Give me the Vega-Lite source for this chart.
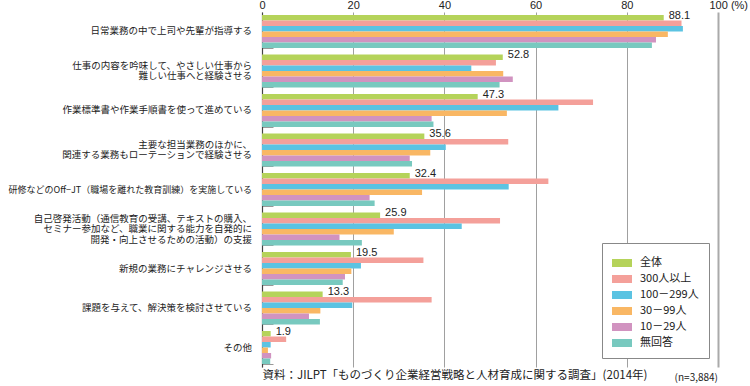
{
  "$schema": "https://vega.github.io/schema/vega-lite/v6.json",
  "autosize": {"type": "none"},
  "width": 456,
  "height": 355,
  "padding": {"left": 262, "top": 12, "right": 32, "bottom": 19},
  "background": "white",
  "config": {
    "font": "Noto Sans CJK JP",
    "view": {"stroke": null}
  },
  "title": {
    "text": "(n=3,884)",
    "orient": "bottom",
    "anchor": "end",
    "frame": "group",
    "offset": -8,
    "font": "Noto Sans CJK JP",
    "fontSize": 10,
    "fontWeight": "normal",
    "color": "#222"
  },
  "data": {
    "values": [
      {"cat": "日常業務の中で上司や先輩が指導する", "series": "全体", "value": 88.1},
      {"cat": "日常業務の中で上司や先輩が指導する", "series": "300人以上", "value": 92.0},
      {"cat": "日常業務の中で上司や先輩が指導する", "series": "100－299人", "value": 92.3},
      {"cat": "日常業務の中で上司や先輩が指導する", "series": "30－99人", "value": 89.0},
      {"cat": "日常業務の中で上司や先輩が指導する", "series": "10－29人", "value": 86.4},
      {"cat": "日常業務の中で上司や先輩が指導する", "series": "無回答", "value": 85.5},
      {"cat": "仕事の内容を吟味して、やさしい仕事から|難しい仕事へと経験させる", "series": "全体", "value": 52.8},
      {"cat": "仕事の内容を吟味して、やさしい仕事から|難しい仕事へと経験させる", "series": "300人以上", "value": 51.3},
      {"cat": "仕事の内容を吟味して、やさしい仕事から|難しい仕事へと経験させる", "series": "100－299人", "value": 45.9},
      {"cat": "仕事の内容を吟味して、やさしい仕事から|難しい仕事へと経験させる", "series": "30－99人", "value": 52.9},
      {"cat": "仕事の内容を吟味して、やさしい仕事から|難しい仕事へと経験させる", "series": "10－29人", "value": 55.0},
      {"cat": "仕事の内容を吟味して、やさしい仕事から|難しい仕事へと経験させる", "series": "無回答", "value": 52.1},
      {"cat": "作業標準書や作業手順書を使って進めている", "series": "全体", "value": 47.3},
      {"cat": "作業標準書や作業手順書を使って進めている", "series": "300人以上", "value": 72.6},
      {"cat": "作業標準書や作業手順書を使って進めている", "series": "100－299人", "value": 65.0},
      {"cat": "作業標準書や作業手順書を使って進めている", "series": "30－99人", "value": 53.7},
      {"cat": "作業標準書や作業手順書を使って進めている", "series": "10－29人", "value": 37.2},
      {"cat": "作業標準書や作業手順書を使って進めている", "series": "無回答", "value": 37.6},
      {"cat": "主要な担当業務のほかに、|関連する業務もローテーションで経験させる", "series": "全体", "value": 35.6},
      {"cat": "主要な担当業務のほかに、|関連する業務もローテーションで経験させる", "series": "300人以上", "value": 54.0},
      {"cat": "主要な担当業務のほかに、|関連する業務もローテーションで経験させる", "series": "100－299人", "value": 40.3},
      {"cat": "主要な担当業務のほかに、|関連する業務もローテーションで経験させる", "series": "30－99人", "value": 36.9},
      {"cat": "主要な担当業務のほかに、|関連する業務もローテーションで経験させる", "series": "10－29人", "value": 32.4},
      {"cat": "主要な担当業務のほかに、|関連する業務もローテーションで経験させる", "series": "無回答", "value": 32.9},
      {"cat": "研修などのOff−JT（職場を離れた教育訓練）を実施している", "series": "全体", "value": 32.4},
      {"cat": "研修などのOff−JT（職場を離れた教育訓練）を実施している", "series": "300人以上", "value": 62.8},
      {"cat": "研修などのOff−JT（職場を離れた教育訓練）を実施している", "series": "100－299人", "value": 54.1},
      {"cat": "研修などのOff−JT（職場を離れた教育訓練）を実施している", "series": "30－99人", "value": 35.1},
      {"cat": "研修などのOff−JT（職場を離れた教育訓練）を実施している", "series": "10－29人", "value": 23.6},
      {"cat": "研修などのOff−JT（職場を離れた教育訓練）を実施している", "series": "無回答", "value": 24.7},
      {"cat": "自己啓発活動（通信教育の受講、テキストの購入、|セミナー参加など、職業に関する能力を自発的に|開発・向上させるための活動）の支援", "series": "全体", "value": 25.9},
      {"cat": "自己啓発活動（通信教育の受講、テキストの購入、|セミナー参加など、職業に関する能力を自発的に|開発・向上させるための活動）の支援", "series": "300人以上", "value": 52.2},
      {"cat": "自己啓発活動（通信教育の受講、テキストの購入、|セミナー参加など、職業に関する能力を自発的に|開発・向上させるための活動）の支援", "series": "100－299人", "value": 43.8},
      {"cat": "自己啓発活動（通信教育の受講、テキストの購入、|セミナー参加など、職業に関する能力を自発的に|開発・向上させるための活動）の支援", "series": "30－99人", "value": 28.9},
      {"cat": "自己啓発活動（通信教育の受講、テキストの購入、|セミナー参加など、職業に関する能力を自発的に|開発・向上させるための活動）の支援", "series": "10－29人", "value": 17.0},
      {"cat": "自己啓発活動（通信教育の受講、テキストの購入、|セミナー参加など、職業に関する能力を自発的に|開発・向上させるための活動）の支援", "series": "無回答", "value": 21.9},
      {"cat": "新規の業務にチャレンジさせる", "series": "全体", "value": 19.5},
      {"cat": "新規の業務にチャレンジさせる", "series": "300人以上", "value": 35.4},
      {"cat": "新規の業務にチャレンジさせる", "series": "100－299人", "value": 21.7},
      {"cat": "新規の業務にチャレンジさせる", "series": "30－99人", "value": 19.6},
      {"cat": "新規の業務にチャレンジさせる", "series": "10－29人", "value": 18.2},
      {"cat": "新規の業務にチャレンジさせる", "series": "無回答", "value": 17.7},
      {"cat": "課題を与えて、解決策を検討させている", "series": "全体", "value": 13.3},
      {"cat": "課題を与えて、解決策を検討させている", "series": "300人以上", "value": 37.2},
      {"cat": "課題を与えて、解決策を検討させている", "series": "100－299人", "value": 19.8},
      {"cat": "課題を与えて、解決策を検討させている", "series": "30－99人", "value": 12.8},
      {"cat": "課題を与えて、解決策を検討させている", "series": "10－29人", "value": 10.3},
      {"cat": "課題を与えて、解決策を検討させている", "series": "無回答", "value": 12.7},
      {"cat": "その他", "series": "全体", "value": 1.9},
      {"cat": "その他", "series": "300人以上", "value": 5.3},
      {"cat": "その他", "series": "100－299人", "value": 1.9},
      {"cat": "その他", "series": "30－99人", "value": 1.3},
      {"cat": "その他", "series": "10－29人", "value": 2.0},
      {"cat": "その他", "series": "無回答", "value": 1.8}
    ]
  },
  "resolve": {"axis": {"x": "independent"}},
  "layer": [
    {
      "mark": {"type": "bar"},
      "encoding": {
        "y": {
          "field": "cat",
          "type": "nominal",
          "sort": null,
          "scale": {"paddingInner": 0.165, "paddingOuter": 0.076},
          "axis": {
            "title": null,
            "labels": false,
            "tickBand": "extent",
            "tickSize": -11,
            "tickColor": "#999",
            "tickWidth": 1,
            "domainColor": "#444",
            "domainWidth": 1.2,
            "grid": false
          }
        },
        "yOffset": {
          "field": "series",
          "type": "nominal",
          "sort": ["全体", "300人以上", "100－299人", "30－99人", "10－29人", "無回答"],
          "scale": {"paddingInner": 0, "paddingOuter": 0}
        },
        "x": {
          "field": "value",
          "type": "quantitative",
          "scale": {"domain": [0, 100], "nice": false, "zero": true},
          "axis": {
            "orient": "top",
            "title": null,
            "values": [0, 20, 40, 60, 80, 100],
            "labelExpr": "datum.value == 100 ? '100 (%)' : datum.label",
            "labelAlign": {"condition": {"test": "datum.value == 100", "value": "left"}, "value": "center"},
            "labelOffset": {"condition": {"test": "datum.value == 100", "value": -9}, "value": 0},
            "labelFont": "Liberation Sans",
            "labelFontSize": 11,
            "labelColor": "#222",
            "labelPadding": 2,
            "ticks": false,
            "domain": false,
            "grid": true,
            "gridColor": {"condition": {"test": "datum.value == 100", "value": "#aaaaaa"}, "value": "#888888"},
            "gridWidth": {"condition": {"test": "datum.value == 100", "value": 2}, "value": 0.8}
          }
        },
        "color": {
          "field": "series",
          "type": "nominal",
          "sort": ["全体", "300人以上", "100－299人", "30－99人", "10－29人", "無回答"],
          "scale": {
            "domain": ["全体", "300人以上", "100－299人", "30－99人", "10－29人", "無回答"],
            "range": ["#b5d35a", "#f4a09a", "#5bc3e2", "#f9b764", "#d193c0", "#78c9bf"]
          },
          "legend": {
            "title": null,
            "orient": "bottom-right",
            "offset": 9,
            "padding": 10,
            "fillColor": "white",
            "strokeColor": "#888",
            "symbolType": "M-1,-0.4L1,-0.4L1,0.4L-1,0.4Z",
            "symbolSize": 400,
            "symbolStrokeWidth": 0,
            "labelFont": "Noto Sans CJK JP",
            "labelFontSize": 11,
            "labelColor": "#222",
            "labelOffset": 8,
            "rowPadding": 1,
            "labelLimit": 200
          }
        }
      }
    },
    {
      "transform": [{"filter": "datum.series == '全体'"}],
      "mark": {
        "type": "text",
        "align": "left",
        "baseline": "middle",
        "dx": 5,
        "dy": -2,
        "font": "Liberation Sans",
        "fontSize": 11,
        "color": "#222"
      },
      "encoding": {
        "y": {"field": "cat", "type": "nominal", "sort": null},
        "yOffset": {
          "field": "series",
          "type": "nominal",
          "sort": ["全体", "300人以上", "100－299人", "30－99人", "10－29人", "無回答"]
        },
        "x": {
          "field": "value",
          "type": "quantitative",
          "axis": {
            "orient": "bottom",
            "title": "資料：JILPT「ものづくり企業経営戦略と人材育成に関する調査」(2014年)",
            "titleAnchor": "start",
            "titleFont": "Noto Sans CJK JP",
            "titleFontSize": 11.5,
            "titleFontWeight": "normal",
            "titleColor": "#222",
            "titlePadding": 2,
            "labels": false,
            "ticks": false,
            "domain": false,
            "grid": false
          }
        },
        "text": {"field": "value", "type": "quantitative", "format": ".1f"}
      }
    },
    {
      "transform": [{"filter": "datum.series == '全体' && indexof(datum.cat, '|') < 0 && indexof(datum.cat, 'Off') < 0"}],
      "mark": {"type": "text", "align": "right", "baseline": "middle", "dx": -10, "fontSize": 9.5, "lineHeight": 10.5, "lineBreak": "|", "color": "#222"},
      "encoding": {
        "y": {"field": "cat", "type": "nominal", "sort": null},
        "x": {"datum": 0, "type": "quantitative", "axis": null},
        "text": {"field": "cat"}
      }
    },
    {
      "transform": [{"filter": "datum.series == '全体' && indexof(datum.cat, 'Off') >= 0"}],
      "mark": {"type": "text", "align": "right", "baseline": "middle", "dx": -10, "fontSize": 9, "color": "#222"},
      "encoding": {
        "y": {"field": "cat", "type": "nominal", "sort": null},
        "x": {"datum": 0, "type": "quantitative", "axis": null},
        "text": {"field": "cat"}
      }
    },
    {
      "transform": [{"filter": "datum.series == '全体' && indexof(datum.cat, '|') >= 0 && indexof(datum.cat, '自己啓発') < 0"}],
      "mark": {"type": "text", "align": "right", "baseline": "middle", "dx": -10, "dy": -5.25, "fontSize": 9.5, "lineHeight": 10.5, "lineBreak": "|", "color": "#222"},
      "encoding": {
        "y": {"field": "cat", "type": "nominal", "sort": null},
        "x": {"datum": 0, "type": "quantitative", "axis": null},
        "text": {"field": "cat"}
      }
    },
    {
      "transform": [{"filter": "datum.series == '全体' && indexof(datum.cat, '自己啓発') >= 0"}],
      "mark": {"type": "text", "align": "right", "baseline": "middle", "dx": -10, "dy": -10.5, "fontSize": 9.5, "lineHeight": 10.5, "lineBreak": "|", "color": "#222"},
      "encoding": {
        "y": {"field": "cat", "type": "nominal", "sort": null},
        "x": {"datum": 0, "type": "quantitative", "axis": null},
        "text": {"field": "cat"}
      }
    }
  ]
}
